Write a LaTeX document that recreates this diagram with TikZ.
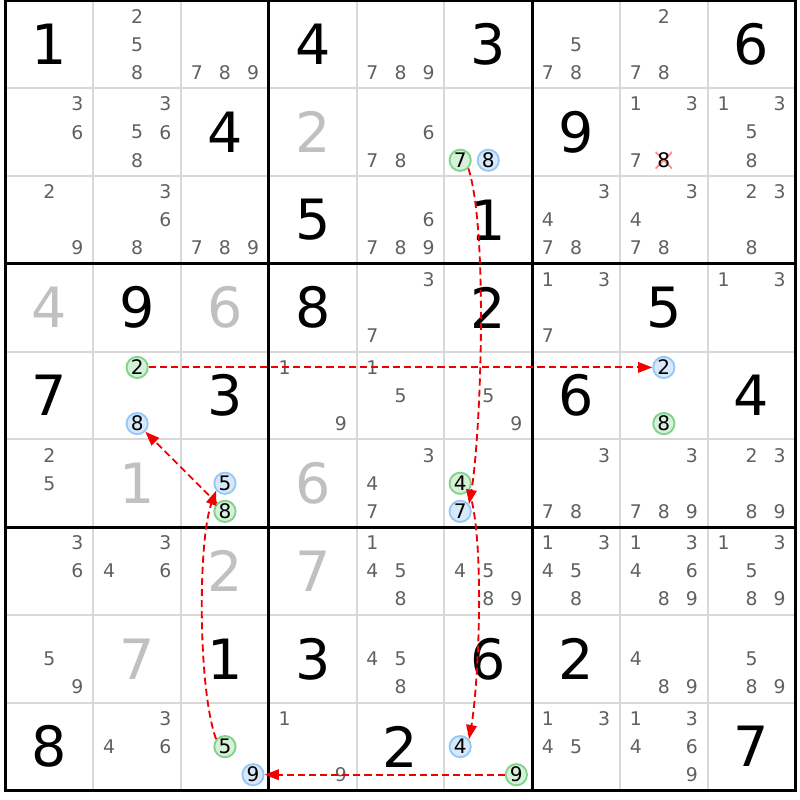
\documentclass[tikz,border=0pt]{standalone}
\usepackage{fontspec}
\setmainfont{DejaVu Sans}
\usetikzlibrary{arrows.meta}

\definecolor{candgray}{RGB}{96,96,96}
\definecolor{solvedgray}{RGB}{192,192,192}
\definecolor{gridgray}{RGB}{216,216,216}
\definecolor{ongreen}{RGB}{128,212,138}
\definecolor{ongreenfill}{RGB}{214,241,216}
\definecolor{offblue}{RGB}{150,200,245}
\definecolor{offbluefill}{RGB}{214,232,250}
\definecolor{elimred}{RGB}{255,140,140}
\definecolor{linkred}{RGB}{240,0,0}

\newcommand\given[3]{\node[given] (g#1#2) at (#2-0.5,0.5-#1) {#3};}
\newcommand\solved[3]{\node[solved] (g#1#2) at (#2-0.5,0.5-#1) {#3};}
\newcommand\cands[3]{\foreach \k in {#3}{\node[cand] (c#1#2\k) at ({#2-0.5+0.32*(mod(\k-1,3)-1)},{0.5-#1-0.32*(floor((\k-1)/3)-1)}) {\k};}}
\newcommand\hlcand[4]{\node[#1] (c#2#3#4) at ({#3-0.5+0.32*(mod(#4-1,3)-1)},{0.5-#2-0.32*(floor((#4-1)/3)-1)}) {#4};}

\begin{document}
\begin{tikzpicture}[
  cellline/.style={gridgray, line width=0.65pt},
  boxline/.style={black, line width=1pt},
  given/.style={inner sep=0pt, font=\fontsize{18}{18}\selectfont},
  solved/.style={given, text=solvedgray},
  cand/.style={inner sep=0pt, text=candgray, font=\fontsize{6.1}{6.5}\selectfont},
  hlbase/.style={circle, inner sep=0pt, minimum size=6.9pt, line width=0.6pt, font=\fontsize{6.5}{7}\selectfont},
  oncand/.style={hlbase, draw=ongreen, fill=ongreenfill},
  offcand/.style={hlbase, draw=offblue, fill=offbluefill},
  elim/.style={inner sep=0pt, minimum size=0.19cm, fill=white, font=\fontsize{6.5}{7}\selectfont,
    path picture={\draw[elimred, line width=0.6pt]
      (path picture bounding box.south west) -- (path picture bounding box.north east)
      (path picture bounding box.north west) -- (path picture bounding box.south east);}},
  link/.style={draw=linkred, line width=0.6pt, dash pattern=on 2.3pt off 1.3pt, -{Triangle[length=4.6pt,width=3.4pt,fill=linkred]}}
]

\useasboundingbox (-0.0627,0.0057) rectangle (9.0513,-9.108);

\foreach \i in {1,2,4,5,7,8} {\draw[cellline] (\i,0) -- (\i,-9); \draw[cellline] (0,-\i) -- (9,-\i);}
\foreach \i in {3,6} {\draw[boxline] (\i,0) -- (\i,-9); \draw[boxline] (0,-\i) -- (9,-\i);}
\draw[boxline] (0,0) rectangle (9,-9);

\given{1}{1}{1} \given{1}{4}{4} \given{1}{6}{3} \given{1}{9}{6}
\given{2}{3}{4} \given{2}{7}{9}
\given{3}{4}{5} \given{3}{6}{1}
\given{4}{2}{9} \given{4}{4}{8} \given{4}{6}{2} \given{4}{8}{5}
\given{5}{1}{7} \given{5}{3}{3} \given{5}{7}{6} \given{5}{9}{4}
\given{8}{3}{1} \given{8}{4}{3} \given{8}{6}{6} \given{8}{7}{2}
\given{9}{1}{8} \given{9}{5}{2} \given{9}{9}{7}

\solved{2}{4}{2} \solved{4}{1}{4} \solved{4}{3}{6} \solved{6}{2}{1}
\solved{6}{4}{6} \solved{7}{3}{2} \solved{7}{4}{7} \solved{8}{2}{7}

\cands{1}{2}{2,5,8} \cands{1}{3}{7,8,9} \cands{1}{5}{7,8,9} \cands{1}{7}{5,7,8} \cands{1}{8}{2,7,8}
\cands{2}{1}{3,6} \cands{2}{2}{3,5,6,8} \cands{2}{5}{6,7,8} \cands{2}{8}{1,3,7} \cands{2}{9}{1,3,5,8}
\cands{3}{1}{2,9} \cands{3}{2}{3,6,8} \cands{3}{3}{7,8,9} \cands{3}{5}{6,7,8,9} \cands{3}{7}{3,4,7,8} \cands{3}{8}{3,4,7,8} \cands{3}{9}{2,3,8}
\cands{4}{5}{3,7} \cands{4}{7}{1,3,7} \cands{4}{9}{1,3}
\cands{5}{4}{1,9} \cands{5}{5}{1,5} \cands{5}{6}{5,9}
\cands{6}{1}{2,5} \cands{6}{5}{3,4,7} \cands{6}{7}{3,7,8} \cands{6}{8}{3,7,8,9} \cands{6}{9}{2,3,8,9}
\cands{7}{1}{3,6} \cands{7}{2}{3,4,6} \cands{7}{5}{1,4,5,8} \cands{7}{6}{4,5,8,9} \cands{7}{7}{1,3,4,5,8} \cands{7}{8}{1,3,4,6,8,9} \cands{7}{9}{1,3,5,8,9}
\cands{8}{1}{5,9} \cands{8}{5}{4,5,8} \cands{8}{8}{4,8,9} \cands{8}{9}{5,8,9}
\cands{9}{2}{3,4,6} \cands{9}{4}{1,9} \cands{9}{7}{1,3,4,5} \cands{9}{8}{1,3,4,6,9}

\hlcand{oncand}{2}{6}{7} \hlcand{offcand}{2}{6}{8}
\hlcand{elim}{2}{8}{8}
\hlcand{oncand}{5}{2}{2} \hlcand{offcand}{5}{2}{8}
\hlcand{offcand}{5}{8}{2} \hlcand{oncand}{5}{8}{8}
\hlcand{offcand}{6}{3}{5} \hlcand{oncand}{6}{3}{8}
\hlcand{oncand}{6}{6}{4} \hlcand{offcand}{6}{6}{7}
\hlcand{oncand}{9}{3}{5} \hlcand{offcand}{9}{3}{9}
\hlcand{offcand}{9}{6}{4} \hlcand{oncand}{9}{6}{9}

\draw[link] (c267.-45) to[out=-72,in=80,looseness=0.5] (c667.40);
\draw[link] (c664.-40) to[out=-72,in=80,looseness=0.55] (c964.40);
\draw[link] (c969) -- (c939);
\draw[link] (c935.140) to[out=110,in=-110,looseness=0.55] (c635.-140);
\draw[link] (c638) -- (c528);
\draw[link] (c522) -- (c582);

\end{tikzpicture}
\end{document}
